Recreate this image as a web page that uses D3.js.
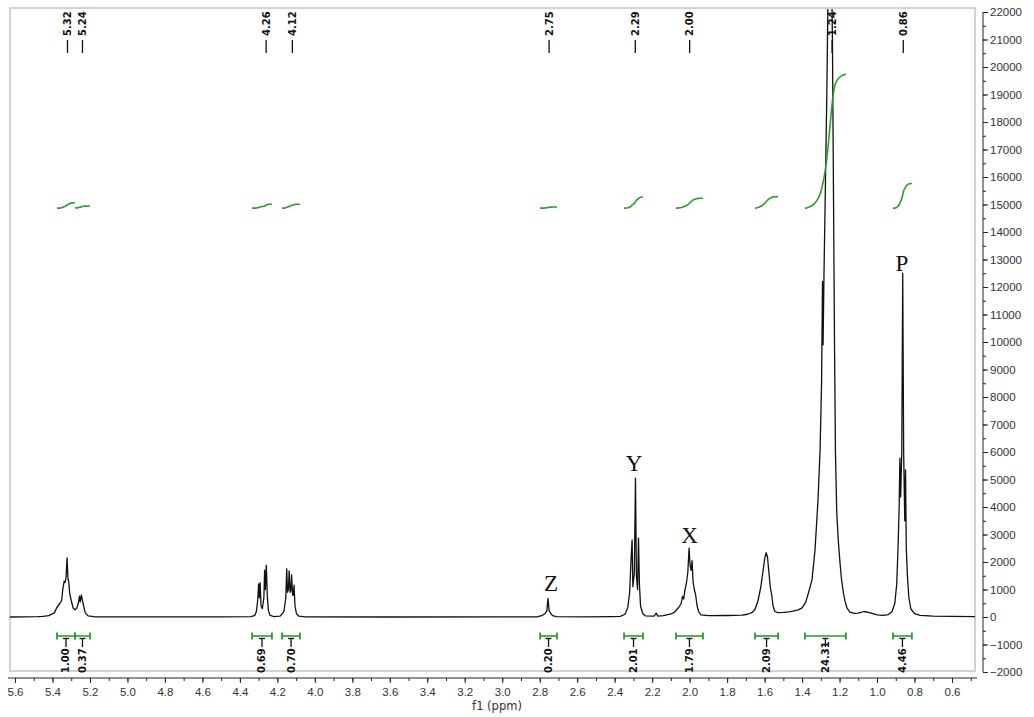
<!DOCTYPE html>
<html>
<head>
<meta charset="utf-8">
<script src="https://cdn.jsdelivr.net/npm/d3@7"></script>
<style>
  body { margin: 0; background: #fff; }
  svg { display: block; font-family: "DejaVu Sans", sans-serif; }
  .axis text { fill: #333; font-size: 11.5px; }
  .axis path, .axis line { stroke: #222; }
</style>
</head>
<body>
<div id="container"></div>
<script>
var width = 1034,
    height = 717;

// spectrum trace, [ppm, intensity]
var baseStart = [[5.63, 0], [5.55, 5], [5.48, 10]];
var olefinic = [[5.45, 20], [5.42, 50], [5.39, 150], [5.378, 330], [5.36, 500], [5.351, 600], [5.345, 1000],
  [5.338, 1300], [5.333, 1250], [5.328, 1400], [5.322, 2150], [5.318, 1450], [5.313, 1250], [5.308, 850],
  [5.30, 600], [5.29, 330], [5.28, 260], [5.27, 330], [5.262, 500], [5.256, 760], [5.252, 550], [5.246, 800],
  [5.24, 600], [5.233, 380], [5.225, 150], [5.21, 40], [5.18, 10]];
var glyceryl1 = [[4.50, 5], [4.34, 10], [4.32, 60], [4.312, 200], [4.305, 600], [4.300, 1200], [4.296, 700],
  [4.292, 1250], [4.287, 400], [4.280, 300], [4.272, 700], [4.268, 1700], [4.264, 1000], [4.259, 1880],
  [4.254, 800], [4.248, 250], [4.24, 70], [4.22, 15]];
var glyceryl2 = [[4.185, 30], [4.165, 200], [4.155, 700], [4.150, 1750], [4.146, 900], [4.141, 1000],
  [4.137, 1680], [4.132, 900], [4.128, 950], [4.124, 1530], [4.119, 800], [4.115, 800], [4.111, 1160],
  [4.106, 400], [4.098, 120], [4.085, 30], [4.06, 10], [3.6, 0], [3.0, 5]];
var peakZ = [[2.81, 10], [2.785, 60], [2.77, 140], [2.762, 220], [2.756, 680], [2.750, 220], [2.742, 140],
  [2.732, 50], [2.71, 10], [2.55, 5], [2.42, 15]];
var peakY = [[2.37, 20], [2.345, 100], [2.33, 350], [2.32, 900], [2.312, 2200], [2.307, 2800], [2.303, 1100],
  [2.295, 1600], [2.289, 5050], [2.284, 1500], [2.278, 1000], [2.273, 2870], [2.268, 1200], [2.262, 400],
  [2.25, 120], [2.235, 40], [2.19, 30], [2.178, 140], [2.17, 30], [2.14, 50]];
var peakX = [[2.10, 110], [2.08, 180], [2.065, 300], [2.055, 380], [2.045, 500], [2.038, 750], [2.032, 650],
  [2.026, 950], [2.018, 1200], [2.010, 1600], [2.003, 2500], [1.998, 1900], [1.992, 1700], [1.987, 2050],
  [1.982, 1300], [1.975, 1000], [1.968, 800], [1.96, 400], [1.952, 200], [1.94, 80], [1.90, 50], [1.80, 55],
  [1.72, 70]];
var peakBeta = [[1.69, 100], [1.665, 170], [1.65, 300], [1.635, 600], [1.62, 1100], [1.61, 1600],
  [1.60, 2100], [1.592, 2340], [1.585, 2200], [1.578, 1700], [1.57, 1100], [1.562, 800], [1.555, 400],
  [1.545, 200], [1.53, 160], [1.50, 170], [1.47, 190]];
var peakChain = [[1.45, 210], [1.42, 260], [1.40, 330], [1.38, 550], [1.365, 900], [1.347, 1350],
  [1.331, 2440], [1.315, 4250], [1.304, 6070], [1.296, 8500], [1.291, 12200], [1.288, 9900], [1.283, 12500],
  [1.276, 15500], [1.268, 19000], [1.262, 22500], [1.256, 25000], [1.250, 25500], [1.244, 24000],
  [1.238, 21000], [1.232, 15000], [1.227, 10000], [1.222, 6000], [1.215, 3800], [1.207, 2800], [1.198, 2000],
  [1.19, 1400], [1.18, 900], [1.17, 550], [1.16, 320], [1.145, 180], [1.12, 130], [1.10, 140], [1.07, 200],
  [1.04, 160], [1.0, 80]];
var peakP = [[0.97, 60], [0.94, 90], [0.92, 200], [0.905, 500], [0.895, 1200], [0.888, 2500], [0.882, 4000],
  [0.878, 5780], [0.874, 4360], [0.868, 6000], [0.863, 12500], [0.858, 6000], [0.852, 3500], [0.848, 5350],
  [0.844, 2545], [0.838, 1500], [0.83, 700], [0.82, 300], [0.80, 120], [0.77, 60], [0.70, 30], [0.60, 20],
  [0.47, 10]];

var peakShifts = [5.32, 5.24, 4.26, 4.12, 2.75, 2.29, 2.00, 1.24, 0.86];

var integralFrom = [5.376, 5.280, 4.335, 4.175, 2.798, 2.350, 2.073, 1.651, 1.385, 0.915];
var integralTo = [5.280, 5.200, 4.229, 4.079, 2.708, 2.249, 1.929, 1.528, 1.166, 0.814];
var integralValue = [1.00, 0.37, 0.69, 0.70, 0.20, 2.01, 1.79, 2.09, 24.31, 4.46];

var letterNames = ["Z", "Y", "X", "P"];
var letterShift = [2.74, 2.297, 2.00, 0.867];
var letterLevel = [950, 5300, 2700, 12600];

var xTicks = d3.range(6, 57, 2).map(function(d) { return d / 10; });
var xMinor = d3.range(5, 57, 1).map(function(d) { return d / 10; });
var yTicks = d3.range(-2000, 22001, 1000);
var yMinor = d3.range(-2000, 22001, 500);

var trace = [].concat(baseStart, olefinic, glyceryl1, glyceryl2, peakZ, peakY, peakX, peakBeta, peakChain, peakP);

var frame = {left: 10, right: 975, top: 8, bottom: 671};

var x = d3.scaleLinear().domain([5.6, 0.6]).range([15, 952]);
var y = d3.scaleLinear().domain([-2000, 22000]).range([672, 12]);

var svg = d3.select("#container")
  .append("svg")
  .attr("width", width)
  .attr("height", height);

svg.append("defs").append("clipPath")
  .attr("id", "plotclip")
  .append("rect")
  .attr("x", frame.left).attr("y", frame.top + 1)
  .attr("width", frame.right - frame.left).attr("height", frame.bottom - frame.top);

// frame
svg.append("rect")
  .attr("x", frame.left).attr("y", frame.top)
  .attr("width", frame.right - frame.left).attr("height", frame.bottom - frame.top)
  .attr("fill", "none")
  .attr("stroke", "#d2d2d2")
  .attr("stroke-width", 2);

// x axis
var xAxisG = svg.append("g")
  .attr("class", "axis")
  .attr("transform", "translate(0,678)");

xAxisG.call(d3.axisBottom(x).tickValues(xMinor).tickSize(3).tickFormat(""));
xAxisG.append("g").call(d3.axisBottom(x).tickValues(xTicks).tickSize(5).tickPadding(5).tickFormat(d3.format(".1f")));
xAxisG.selectAll(".domain").remove();
xAxisG.append("line")
  .attr("x1", frame.left - 2).attr("x2", frame.right + 2)
  .attr("stroke", "#222");

svg.append("text")
  .attr("x", 497).attr("y", 710)
  .attr("text-anchor", "middle")
  .style("font-size", "11.5px")
  .style("fill", "#333")
  .text("f1 (ppm)");

// y axis on the right
var yAxisG = svg.append("g")
  .attr("class", "axis")
  .attr("transform", "translate(983,0)");

yAxisG.call(d3.axisRight(y).tickValues(yMinor).tickSize(3).tickFormat(""));
yAxisG.append("g").call(d3.axisRight(y).tickValues(yTicks).tickSize(5).tickPadding(2).tickFormat(d3.format("d")));
yAxisG.selectAll(".domain").remove();
yAxisG.append("line")
  .attr("y1", y(22000)).attr("y2", y(-2000))
  .attr("stroke", "#222");

// spectrum
var plot = svg.append("g").attr("clip-path", "url(#plotclip)");

var line = d3.line()
  .x(function(d) { return x(d[0]); })
  .y(function(d) { return y(d[1]); });

plot.append("path")
  .datum(trace)
  .attr("d", line)
  .attr("fill", "none")
  .attr("stroke", "#111")
  .attr("stroke-width", 1.3)
  .attr("stroke-linejoin", "round");

// integral curves, cumulative area of the trace in each range
var integralBase = 14870,
    unitRise = 200;

integralFrom.forEach(function(from, i) {
  var to = integralTo[i];
  var pts = trace.filter(function(d) { return d[0] <= from && d[0] >= to; });
  var areas = pts.map(function(d, j) {
    if (j === 0) return 0;
    return (pts[j - 1][0] - d[0]) * (pts[j - 1][1] + d[1]) / 2;
  });
  var cum = Array.from(d3.cumsum(areas));
  var total = cum[cum.length - 1] || 1;
  var curve = pts.map(function(d, j) {
    return [d[0], integralBase + integralValue[i] * unitRise * cum[j] / total];
  });
  curve.unshift([from, integralBase]);
  curve.push([to, curve[curve.length - 1][1]]);

  plot.append("path")
    .datum(curve)
    .attr("d", d3.line().curve(d3.curveMonotoneX)
      .x(function(d) { return x(d[0]); })
      .y(function(d) { return y(d[1]); }))
    .attr("fill", "none")
    .attr("stroke", "#2a9d2a")
    .attr("stroke-width", 1.6);

  // range bar at the bottom
  var g = svg.append("g");
  var x1 = x(from), x2 = x(to), xc = (x1 + x2) / 2;
  g.append("line").attr("x1", x1).attr("x2", x2).attr("y1", 636).attr("y2", 636)
    .attr("stroke", "#2a9d2a").attr("stroke-width", 1.6);
  [x1, x2].forEach(function(xe) {
    g.append("line").attr("x1", xe).attr("x2", xe).attr("y1", 632.5).attr("y2", 639.5)
      .attr("stroke", "#2a9d2a").attr("stroke-width", 1.8);
  });
  g.append("line").attr("x1", xc - 3).attr("x2", xc + 3).attr("y1", 638.5).attr("y2", 638.5)
    .attr("stroke", "#111").attr("stroke-width", 1.3);
  g.append("line").attr("x1", xc).attr("x2", xc).attr("y1", 638).attr("y2", 647)
    .attr("stroke", "#111").attr("stroke-width", 1.3);
  g.append("text")
    .attr("transform", "translate(" + xc + ",673) rotate(-90)")
    .attr("dy", "0.35em")
    .style("font-size", "10px")
    .style("font-weight", "bold")
    .style("fill", "#111")
    .text(integralValue[i].toFixed(2));
});

// peak picking labels at the top
peakShifts.forEach(function(p) {
  var xp = x(p);
  svg.append("line")
    .attr("x1", xp).attr("x2", xp).attr("y1", 40).attr("y2", 53)
    .attr("stroke", "#111").attr("stroke-width", 1.3);
  svg.append("text")
    .attr("transform", "translate(" + xp + ",36) rotate(-90)")
    .attr("dy", "0.35em")
    .style("font-size", "10px")
    .style("font-weight", "bold")
    .style("fill", "#111")
    .text(p.toFixed(2));
});

// assignment letters
letterNames.forEach(function(name, i) {
  svg.append("text")
    .attr("x", x(letterShift[i]))
    .attr("y", y(letterLevel[i]))
    .attr("text-anchor", "middle")
    .style("font-family", "'Liberation Serif', serif")
    .style("font-size", "23px")
    .style("fill", "#111")
    .text(name);
});
</script>
</body>
</html>
